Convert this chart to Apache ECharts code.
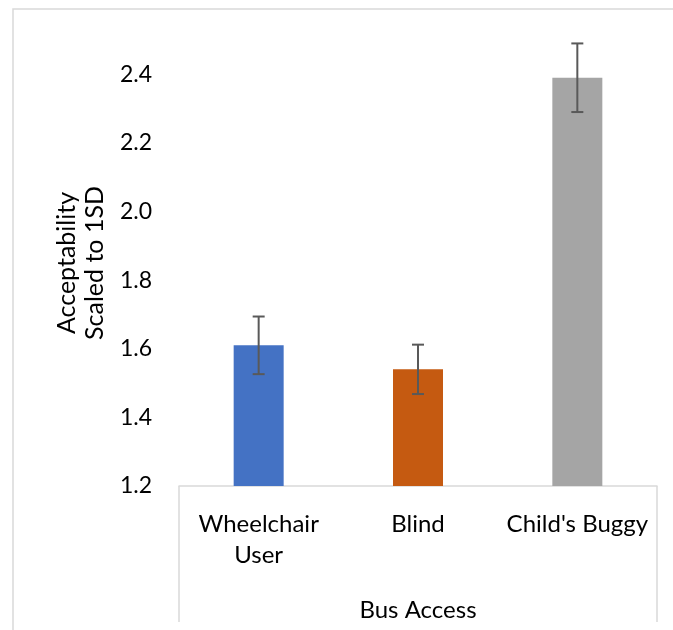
<!DOCTYPE html>
<html>
<head>
<meta charset="utf-8">
<script src="https://cdn.jsdelivr.net/npm/echarts@6/dist/echarts.min.js"></script>
<style>
html,body{margin:0;padding:0;background:#fff;}
#main{width:673px;height:630px;}
</style>
</head>
<body>
<div id="main"></div>
<script>
const categories = ['Wheelchair User', 'Blind', "Child's Buggy"];
const means = [1.61, 1.54, 2.39];
const errors = [0.084, 0.072, 0.10];
const colors = ['#4472C4', '#C55A11', '#A5A5A5'];
const yTicks = { min: 1.2, max: 2.5, interval: 0.2 };

const FONT = 'Lato';
const G = { left: 179, right: 16, top: 40, bottom: 144 };
const W = 673, H = 630;

const chart = echarts.init(document.getElementById('main'));
chart.setOption({
  animation: false,
  textStyle: { fontFamily: FONT },
  grid: { left: G.left, right: G.right, top: G.top, bottom: G.bottom, containLabel: false },
  xAxis: {
    type: 'category',
    data: categories,
    name: 'Bus Access',
    nameLocation: 'middle',
    nameGap: 112,
    nameTextStyle: { fontFamily: FONT, fontSize: 24, color: '#000' },
    axisLine: { show: true, lineStyle: { color: '#d9d9d9', width: 1.5 } },
    axisTick: { show: false },
    axisLabel: {
      fontFamily: FONT, fontSize: 24, color: '#000', margin: 23, lineHeight: 31,
      interval: 0,
      formatter: v => v.replace('Wheelchair ', 'Wheelchair\n')
    },
    splitLine: { show: false }
  },
  yAxis: {
    type: 'value',
    min: yTicks.min, max: yTicks.max, interval: yTicks.interval,
    name: 'Acceptability\nScaled to 1SD',
    nameLocation: 'middle',
    nameRotate: 90,
    nameGap: 69,
    nameTextStyle: { fontFamily: FONT, fontSize: 25, color: '#000', lineHeight: 28 },
    axisLine: { show: false },
    axisTick: { show: false },
    splitLine: { show: false },
    axisLabel: {
      fontFamily: FONT, fontSize: 23, color: '#000', margin: 27,
      showMaxLabel: false,
      formatter: v => v.toFixed(1)
    }
  },
  series: [
    {
      type: 'bar',
      barWidth: 50,
      data: means.map((v, i) => ({ value: v, itemStyle: { color: colors[i] } })),
      z: 2
    },
    {
      type: 'custom',
      z: 5,
      data: means.map((v, i) => [i, v - errors[i], v + errors[i]]),
      renderItem: function (params, api) {
        const x = api.coord([api.value(0), api.value(1)])[0];
        const lo = api.coord([api.value(0), api.value(1)])[1];
        const hi = api.coord([api.value(0), api.value(2)])[1];
        const cap = 6;
        const st = { stroke: '#595959', lineWidth: 2 };
        return {
          type: 'group',
          children: [
            { type: 'line', shape: { x1: x, y1: hi, x2: x, y2: lo }, style: st },
            { type: 'line', shape: { x1: x - cap, y1: hi, x2: x + cap, y2: hi }, style: st },
            { type: 'line', shape: { x1: x - cap, y1: lo, x2: x + cap, y2: lo }, style: st }
          ]
        };
      }
    }
  ],
  graphic: [
    { type: 'rect', shape: { x: 13, y: 9, width: W, height: H }, style: { fill: 'none', stroke: '#d9d9d9', lineWidth: 1.5 }, silent: true },
    { type: 'line', shape: { x1: G.left, y1: H - G.bottom, x2: G.left, y2: 622 }, style: { stroke: '#d9d9d9', lineWidth: 1.5 } },
    { type: 'line', shape: { x1: W - G.right, y1: H - G.bottom, x2: W - G.right, y2: 622 }, style: { stroke: '#d9d9d9', lineWidth: 1.5 } }
  ]
});
</script>
</body>
</html>
